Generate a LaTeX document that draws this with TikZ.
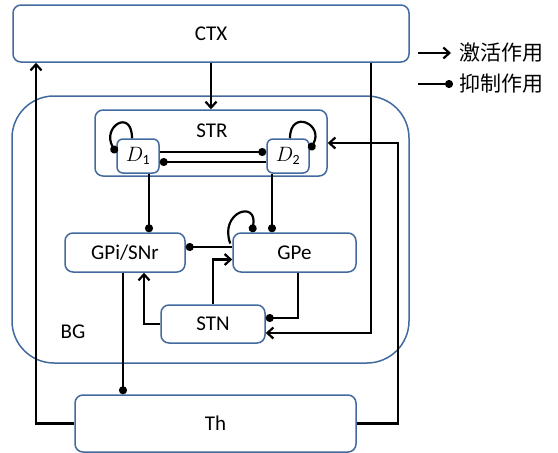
\documentclass[tikz,border=0pt]{standalone}
\usepackage{fontspec}
\setmainfont{Carlito}
\newfontfamily\cjk{Noto Sans CJK SC}
\usetikzlibrary{arrows.meta,calc}
\definecolor{boxblue}{RGB}{66,106,158}
\tikzset{
  box/.style={draw=boxblue, line width=1.5pt, rounded corners=8pt, fill=white,
    font=\fontsize{21}{24}\selectfont, inner sep=0pt},
  dbox/.style={box, rounded corners=6pt, font=\fontsize{20}{22}\selectfont},
  bgbox/.style={draw=boxblue, line width=1.5pt, rounded corners=42pt},
  lbl/.style={font=\fontsize{21}{24}\selectfont, inner sep=0pt},
  conn/.style={line width=2.2pt, black},
  act/.style={conn, -{Straight Barb[length=6pt,width=11pt]}},
  inh/.style={conn, -{Circle[length=8pt]}},
}
\begin{document}
\begin{tikzpicture}[x=1pt,y=-1pt]
\useasboundingbox (0,0) rectangle (558,453);
% containers
\node[bgbox, minimum width=397pt, minimum height=267pt] (BG) at (210.5,229.5) {};
\node[lbl] (BGl) at (73,332) {BG};
\node[box, minimum width=396pt, minimum height=57pt] (CTX) at (211,33.5) {CTX};
\node[box, minimum width=232pt, minimum height=66pt] (STR) at (211,143) {};
\node[lbl] (STRl) at (212,131) {STR};
\node[dbox, minimum width=42pt, minimum height=34pt] (D1) at (138,156) {$D_{\mathrm{1}}$};
\node[dbox, minimum width=42pt, minimum height=34pt] (D2) at (288,156) {$D_{\mathrm{2}}$};
\node[box, minimum width=120pt, minimum height=39pt] (GPi) at (125,252.5) {GPi/SNr};
\node[box, minimum width=123pt, minimum height=39pt] (GPe) at (294.5,252.5) {GPe};
\node[box, minimum width=104pt, minimum height=38pt] (STN) at (213,324) {STN};
\node[box, minimum width=281pt, minimum height=57pt] (Th) at (215.5,423.5) {Th};
% legend
\node[lbl, anchor=west] (lg1) at (459,53) {\cjk 激活作用};
\node[lbl, anchor=west] (lg2) at (459,84) {\cjk 抑制作用};
\draw[act] ([xshift=-41pt]lg1.west) -- ([xshift=-8pt]lg1.west);
\draw[inh] ([xshift=-41pt]lg2.west) -- ([xshift=-6pt]lg2.west);
% guide coordinates
\coordinate (L) at (36,0);
\coordinate (R) at (398,0);
\coordinate (R2) at (371,0);
% connectors
\draw[act] (CTX.south -| STR.north) -- (STR.north);
\draw[act] (Th.west) -| (L |- CTX.south);
\draw[act] (Th.east) -| (R |- STR.east) -- (STR.east);
\draw[act] (R2 |- CTX.south) |- ([yshift=-9pt]STN.east);
\draw[inh] ([yshift=4pt]D1.east) -- ([yshift=4pt]D2.west);
\draw[inh] ([yshift=-6pt]D2.west) -- ([yshift=-6pt]D1.east);
\draw[inh] ([xshift=-6pt]D1.north) to[out=90,in=120,looseness=3.6] ([yshift=3pt]D1.west);
\draw[inh] ([xshift=2pt]D2.north) to[out=90,in=60,looseness=3.3] ([yshift=6pt]D2.east);
\draw[inh] ([xshift=11pt]D1.south) -- ([xshift=11pt]D1.south |- GPi.north);
\draw[inh] ([xshift=-16pt]D2.south) -- ([xshift=-16pt]D2.south |- GPe.north);
\draw[inh] ([xshift=-2pt,yshift=9pt]GPe.west) to[out=110,in=80,looseness=3.5] ([xshift=-42.5pt]GPe.north);
\draw[inh] ([yshift=5.5pt]GPe.west) -- ([yshift=5.5pt]GPe.west -| GPi.east);
\draw[act] (STN.north) |- ([yshift=-7pt]GPe.west);
\draw[act] (STN.west) -| ([xshift=19pt]GPi.south);
\draw[inh] ([xshift=3.5pt]GPe.south) |- ([yshift=6pt]STN.east);
\draw[inh] ([xshift=-2pt]GPi.south) -- ([xshift=-2pt]GPi.south |- Th.north);
\end{tikzpicture}
\end{document}
